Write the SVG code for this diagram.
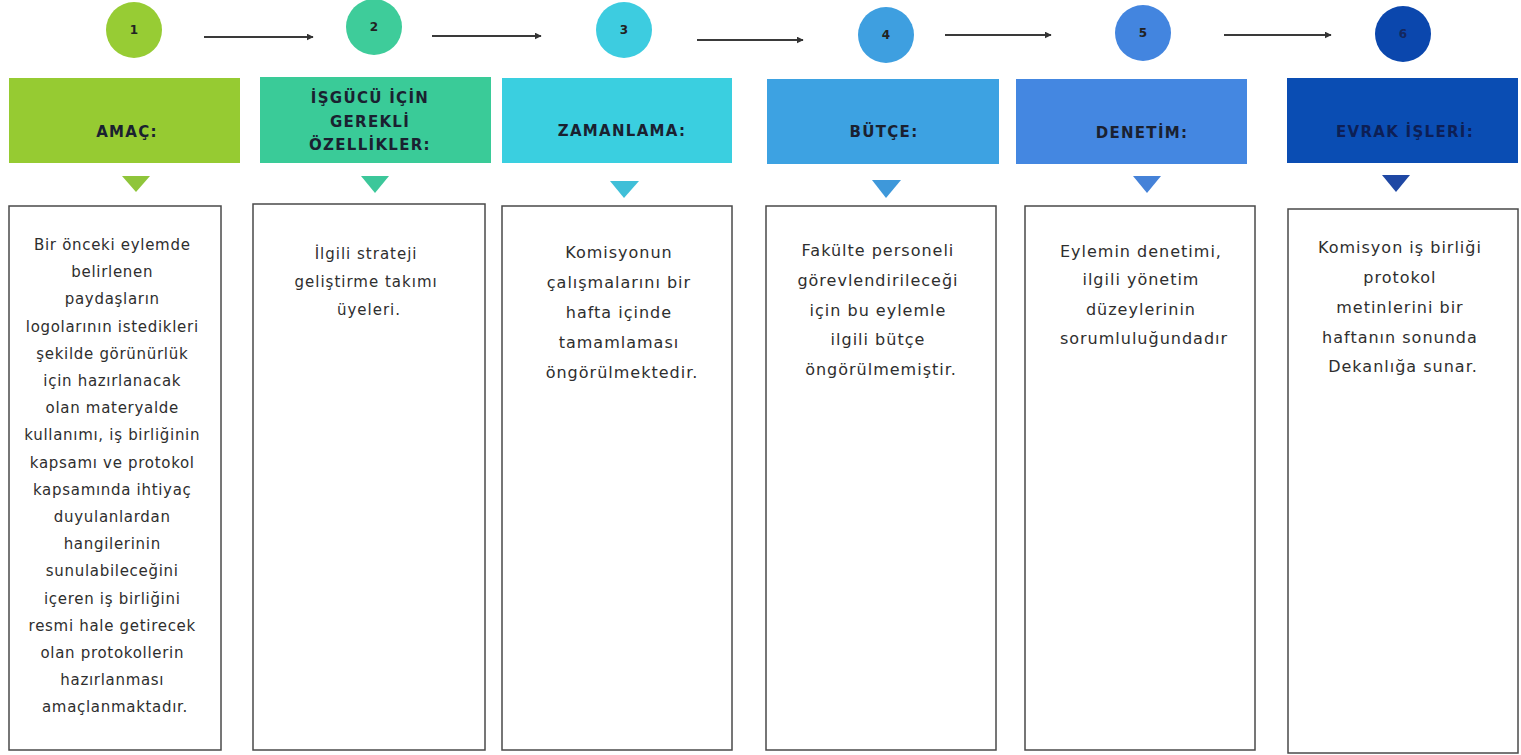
<svg xmlns="http://www.w3.org/2000/svg" width="1521" height="755" viewBox="0 0 1521 755">
<defs>
<marker id="ah" viewBox="0 0 10 10" refX="9" refY="5" markerWidth="3.5" markerHeight="3.5" orient="auto" markerUnits="strokeWidth">
<path d="M0,0 L10,5 L0,10 z" fill="#333"/>
</marker>
<style>
.num{font-family:"DejaVu Sans",sans-serif;font-weight:bold;font-size:12px;fill:#222;text-anchor:middle}
.hd{font-family:"DejaVu Sans",sans-serif;font-weight:bold;font-size:15px;letter-spacing:1.3px;fill:#1a2130;text-anchor:middle}
.bx{fill:#fff;stroke:#4a4a4a;stroke-width:1.5}
.tx{font-family:"DejaVu Sans",sans-serif;font-size:15px;letter-spacing:0.7px;fill:#2e2e2e;text-anchor:middle}
.tx2{font-family:"DejaVu Sans",sans-serif;font-size:16px;letter-spacing:1px;fill:#2e2e2e;text-anchor:middle}
.conn{stroke:#3a3a3a;stroke-width:2;fill:none;marker-end:url(#ah)}
</style>
</defs>
<rect width="1521" height="755" fill="#fff"/>
<g id="connectors">
<line class="conn" x1="204" y1="37" x2="313" y2="37"/>
<line class="conn" x1="432" y1="36" x2="541" y2="36"/>
<line class="conn" x1="697" y1="40" x2="803" y2="40"/>
<line class="conn" x1="945" y1="35" x2="1051" y2="35"/>
<line class="conn" x1="1224" y1="35" x2="1331" y2="35"/>
</g>
<g id="step1">
<circle cx="134" cy="30" r="28" fill="#97CC34"/>
<text class="num" x="134" y="34">1</text>
<rect x="9" y="78" width="231" height="85" fill="#96CB32"/>
<text class="hd" x="127" y="137">AMAÇ:</text>
<path d="M122,176 L150,176 L136,192 z" fill="#8FC53A"/>
<rect class="bx" x="9" y="206" width="212" height="544"/>
<text class="tx" x="115">
<tspan x="115" y="250">Bir önceki eylemde</tspan>
<tspan x="115" y="277.2">belirlenen</tspan>
<tspan x="115" y="304.4">paydaşların</tspan>
<tspan x="115" y="331.6">logolarının istedikleri</tspan>
<tspan x="115" y="358.8">şekilde görünürlük</tspan>
<tspan x="115" y="386">için hazırlanacak</tspan>
<tspan x="115" y="413.2">olan materyalde</tspan>
<tspan x="115" y="440.4">kullanımı, iş birliğinin</tspan>
<tspan x="115" y="467.6">kapsamı ve protokol</tspan>
<tspan x="115" y="494.8">kapsamında ihtiyaç</tspan>
<tspan x="115" y="522">duyulanlardan</tspan>
<tspan x="115" y="549.2">hangilerinin</tspan>
<tspan x="115" y="576.4">sunulabileceğini</tspan>
<tspan x="115" y="603.6">içeren iş birliğini</tspan>
<tspan x="115" y="630.8">resmi hale getirecek</tspan>
<tspan x="115" y="658">olan protokollerin</tspan>
<tspan x="115" y="685.2">hazırlanması</tspan>
<tspan x="115" y="712.4">amaçlanmaktadır.</tspan>
</text>
</g>
<g id="step2">
<circle cx="374" cy="27" r="28" fill="#3ECC9A"/>
<text class="num" x="374" y="31">2</text>
<rect x="260" y="77" width="231" height="86" fill="#3ACB98"/>
<text class="hd" x="370" y="103">İŞGÜCÜ İÇİN</text>
<text class="hd" x="370" y="127">GEREKLİ</text>
<text class="hd" x="370" y="150">ÖZELLİKLER:</text>
<path d="M361,176 L389,176 L375,193 z" fill="#3CC79A"/>
<rect class="bx" x="253" y="204" width="232" height="546"/>
<text class="tx" x="369" style="letter-spacing:1px">
<tspan x="369" y="259">İlgili strateji</tspan>
<tspan x="369" y="287">geliştirme takımı</tspan>
<tspan x="369" y="315">üyeleri.</tspan>
</text>
</g>
<g id="step3">
<circle cx="624" cy="30" r="28" fill="#3DCCE0"/>
<text class="num" x="624" y="34">3</text>
<rect x="502" y="78" width="230" height="85" fill="#3ACFE0"/>
<text class="hd" x="622" y="136">ZAMANLAMA:</text>
<path d="M610,181 L639,181 L624,198 z" fill="#3FBFD8"/>
<rect class="bx" x="502" y="206" width="230" height="544"/>
<text class="tx2" x="622">
<tspan x="622" y="258">Komisyonun</tspan>
<tspan x="622" y="288">çalışmalarını bir</tspan>
<tspan x="622" y="318">hafta içinde</tspan>
<tspan x="622" y="348">tamamlaması</tspan>
<tspan x="622" y="378">öngörülmektedir.</tspan>
</text>
</g>
<g id="step4">
<circle cx="886" cy="35" r="28" fill="#3E9FE0"/>
<text class="num" x="886" y="39">4</text>
<rect x="767" y="79" width="232" height="85" fill="#3DA2E2"/>
<text class="hd" x="884" y="137">BÜTÇE:</text>
<path d="M872,180 L901,180 L886,198 z" fill="#3E98DA"/>
<rect class="bx" x="766" y="206" width="230" height="544"/>
<text class="tx2" x="881">
<tspan x="881" y="256">Fakülte personeli</tspan>
<tspan x="881" y="286">görevlendirileceği</tspan>
<tspan x="881" y="316">için bu eylemle</tspan>
<tspan x="881" y="345">ilgili bütçe</tspan>
<tspan x="881" y="375">öngörülmemiştir.</tspan>
</text>
</g>
<g id="step5">
<circle cx="1143" cy="33" r="28" fill="#4385DF"/>
<text class="num" x="1143" y="37">5</text>
<rect x="1016" y="79" width="231" height="85" fill="#4487E1"/>
<text class="hd" x="1142" y="138">DENETİM:</text>
<path d="M1133,176 L1161,176 L1147,193 z" fill="#4582D8"/>
<rect class="bx" x="1025" y="206" width="230" height="544"/>
<text class="tx2" x="1144">
<tspan x="1144" y="257">Eylemin denetimi,</tspan>
<tspan x="1144" y="285">ilgili yönetim</tspan>
<tspan x="1144" y="315">düzeylerinin</tspan>
<tspan x="1144" y="344">sorumluluğundadır</tspan>
</text>
</g>
<g id="step6">
<circle cx="1403" cy="34" r="28" fill="#0B47AD"/>
<text class="num" x="1403" y="38" style="fill:#14275e">6</text>
<rect x="1287" y="78" width="231" height="85" fill="#0A4DB3"/>
<text class="hd" x="1405" y="137" style="fill:#0d1f55">EVRAK İŞLERİ:</text>
<path d="M1382,175 L1410,175 L1396,192 z" fill="#1F48A4"/>
<rect class="bx" x="1288" y="209" width="230" height="544"/>
<text class="tx2" x="1403">
<tspan x="1403" y="253">Komisyon iş birliği</tspan>
<tspan x="1403" y="283">protokol</tspan>
<tspan x="1403" y="313">metinlerini bir</tspan>
<tspan x="1403" y="343">haftanın sonunda</tspan>
<tspan x="1403" y="372">Dekanlığa sunar.</tspan>
</text>
</g>
</svg>
